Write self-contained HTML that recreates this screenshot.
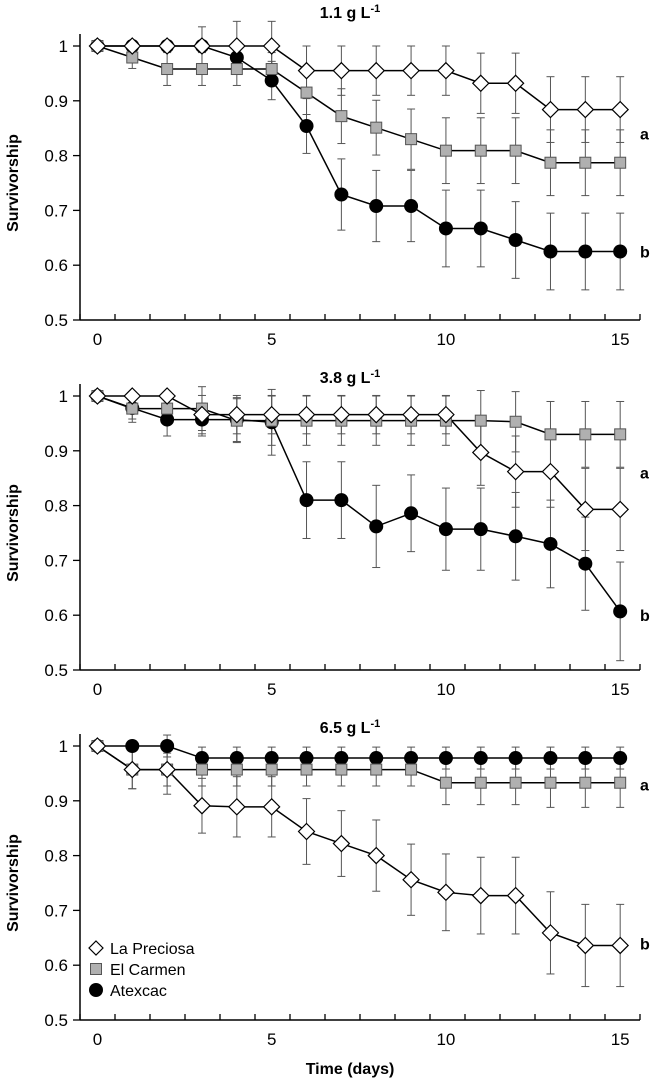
<!DOCTYPE html>
<html><head><meta charset="utf-8"><style>
body{margin:0;background:#fff}
svg{display:block}
text{font-family:"Liberation Sans",Arial,sans-serif}
</style></head><body>
<svg id="c" width="652" height="1079"></svg>
<script>
const days=[0,1,2,3,4,5,6,7,8,9,10,11,12,13,14,15];
const yTicks=[0.5,0.6,0.7,0.8,0.9,1];
const yTickLabels=["0.5","0.6","0.7","0.8","0.9","1"];
const xTickLabels=["0","5","10","15"];
const titles=["1.1","3.8","6.5"];
const p1LP=[1,1,1,1,1,1,0.955,0.955,0.955,0.955,0.955,0.932,0.932,0.884,0.884,0.884];
const p1LPe=[0,0,0,0.035,0.045,0.045,0.045,0.045,0.045,0.045,0.045,0.055,0.055,0.06,0.06,0.06];
const p1EC=[1,0.979,0.958,0.958,0.958,0.958,0.915,0.872,0.851,0.83,0.809,0.809,0.809,0.787,0.787,0.787];
const p1ECe=[0,0.02,0.03,0.03,0.03,0.03,0.04,0.05,0.05,0.055,0.06,0.06,0.06,0.06,0.06,0.06];
const p1AT=[1,1,1,1,0.979,0.937,0.854,0.729,0.708,0.708,0.667,0.667,0.646,0.625,0.625,0.625];
const p1ATe=[0,0,0,0,0.02,0.035,0.05,0.065,0.065,0.065,0.07,0.07,0.07,0.07,0.07,0.07];
const p2LP=[1,1,1,0.966,0.966,0.966,0.966,0.966,0.966,0.966,0.966,0.897,0.862,0.862,0.793,0.793];
const p2LPe=[0,0,0,0.035,0.035,0.035,0.035,0.035,0.035,0.035,0.035,0.06,0.065,0.065,0.075,0.075];
const p2EC=[1,0.977,0.977,0.977,0.955,0.955,0.955,0.955,0.955,0.955,0.955,0.955,0.953,0.93,0.93,0.93];
const p2ECe=[0,0.025,0.025,0.04,0.04,0.045,0.045,0.045,0.045,0.045,0.045,0.055,0.055,0.06,0.06,0.06];
const p2AT=[1,0.978,0.957,0.957,0.957,0.952,0.81,0.81,0.762,0.786,0.757,0.757,0.744,0.73,0.694,0.607];
const p2ATe=[0,0.02,0.03,0.03,0.04,0.06,0.07,0.07,0.075,0.07,0.075,0.075,0.08,0.08,0.085,0.09];
const p3LP=[1,0.957,0.957,0.891,0.889,0.889,0.844,0.822,0.8,0.756,0.733,0.727,0.727,0.659,0.636,0.636];
const p3LPe=[0,0.035,0.045,0.05,0.055,0.055,0.06,0.06,0.065,0.065,0.07,0.07,0.07,0.075,0.075,0.075];
const p3EC=[1,0.957,0.957,0.957,0.957,0.957,0.957,0.957,0.957,0.957,0.933,0.933,0.933,0.933,0.933,0.933];
const p3ECe=[0,0.035,0.03,0.03,0.03,0.03,0.03,0.03,0.03,0.03,0.04,0.04,0.04,0.045,0.045,0.045];
const p3AT=[1,1,1,0.978,0.978,0.978,0.978,0.978,0.978,0.978,0.978,0.978,0.978,0.978,0.978,0.978];
const p3ATe=[0,0,0.02,0.02,0.02,0.02,0.02,0.02,0.02,0.02,0.02,0.02,0.02,0.02,0.02,0.02];
const panels=[
 {top:46,ty:18,LP:p1LP,LPe:p1LPe,EC:p1EC,ECe:p1ECe,AT:p1AT,ATe:p1ATe,a:0.84,b:0.625},
 {top:396,ty:383,LP:p2LP,LPe:p2LPe,EC:p2EC,ECe:p2ECe,AT:p2AT,ATe:p2ATe,a:0.86,b:0.6},
 {top:746,ty:733,LP:p3LP,LPe:p3LPe,EC:p3EC,ECe:p3ECe,AT:p3AT,ATe:p3ATe,a:0.93,b:0.64}
];
const NS="http://www.w3.org/2000/svg";
const svg=document.getElementById('c');
function mk(t,a,p){const e=document.createElementNS(NS,t);for(const k in a)e.setAttribute(k,a[k]);(p||svg).appendChild(e);return e;}
const X=d=>80+34.85*(d+0.5);
panels.forEach((P,pi)=>{
 const Y=v=>P.top+(1-v)*548;
 const g=mk('g',{});
 
 
 const bottom=Y(0.5);
 mk('line',{x1:80,y1:bottom,x2:640,y2:bottom,stroke:'#000','stroke-width':1.5},g);
 mk('line',{x1:80,y1:P.top-12,x2:80,y2:bottom,stroke:'#000','stroke-width':1.5},g);
 for(let k=0;k<=16;k++)mk('line',{x1:80+35*k,y1:bottom,x2:80+35*k,y2:bottom-6,stroke:'#000','stroke-width':1.3},g);
 yTicks.forEach((v,i)=>{
  mk('line',{x1:73,y1:Y(v),x2:80,y2:Y(v),stroke:'#000','stroke-width':1.3},g);
  const t=mk('text',{x:68,y:Y(v)+6,'text-anchor':'end','font-size':17},g);t.textContent=yTickLabels[i];
  
 });
 xTickLabels.forEach(l=>{
  const t=mk('text',{x:X(+l),y:bottom+25,'text-anchor':'middle','font-size':17},g);t.textContent=l;
  
 });
 const tt=mk('text',{x:350,y:P.ty,'text-anchor':'middle','font-size':16,'font-weight':'bold'},g);
 tt.innerHTML=titles[pi]+' g L<tspan dy="-6" font-size="11">-1</tspan>';
 
 const yl=mk('text',{transform:`translate(18,${P.top+137}) rotate(-90)`,'text-anchor':'middle','font-size':16,'font-weight':'bold'},g);
 yl.textContent='Survivorship';
 
 [['a',P.a],['b',P.b]].forEach(([s,v])=>{const t=mk('text',{x:640,y:Y(v)+6,'font-size':16,'font-weight':'bold'},g);t.textContent=s;
  });
 const series=[['AT',P.AT,P.ATe],['EC',P.EC,P.ECe],['LP',P.LP,P.LPe]];
 series.forEach(([n,vals,errs])=>{
  errs.forEach((e,i)=>{if(e>0){const x=X(days[i]);
   mk('line',{x1:x,y1:Y(vals[i]+e),x2:x,y2:Y(vals[i]-e),stroke:'#555','stroke-width':1},g);
   mk('line',{x1:x-4,y1:Y(vals[i]+e),x2:x+4,y2:Y(vals[i]+e),stroke:'#555','stroke-width':1},g);
   mk('line',{x1:x-4,y1:Y(vals[i]-e),x2:x+4,y2:Y(vals[i]-e),stroke:'#555','stroke-width':1},g);}});
 });
 series.forEach(([n,vals])=>{
  const pl=mk('polyline',{points:vals.map((v,i)=>X(days[i])+','+Y(v)).join(' '),fill:'none',stroke:'#000','stroke-width':1.5},g);
  
 });
 series.forEach(([n,vals])=>{
  vals.forEach((v,i)=>{const x=X(days[i]),y=Y(v);let m;
   if(n==='AT')m=mk('circle',{cx:x,cy:y,r:7,fill:'#000'},g);
   else if(n==='EC')m=mk('rect',{x:x-5.5,y:y-5.5,width:11,height:11,fill:'#b0b0b0',stroke:'#555','stroke-width':1},g);
   else m=mk('polygon',{points:`${x},${y-8} ${x+8},${y} ${x},${y+8} ${x-8},${y}`,fill:'#fff',stroke:'#000','stroke-width':1.2},g);
   });
 });
});
const xt=mk('text',{x:350,y:1074,'text-anchor':'middle','font-size':16,'font-weight':'bold'});xt.textContent='Time (days)';

const lg=mk('g',{});

mk('polygon',{points:'96,941 103,948 96,955 89,948',fill:'#fff',stroke:'#000','stroke-width':1.2},lg);
mk('rect',{x:90.5,y:963.5,width:11,height:11,fill:'#b0b0b0',stroke:'#555'},lg);
mk('circle',{cx:96,cy:990,r:7,fill:'#000'},lg);
[['La Preciosa',954],['El Carmen',975],['Atexcac',996]].forEach(([s,y])=>{const t=mk('text',{x:110,y:y,'font-size':16},lg);t.textContent=s;
 });
</script>
</body></html>
